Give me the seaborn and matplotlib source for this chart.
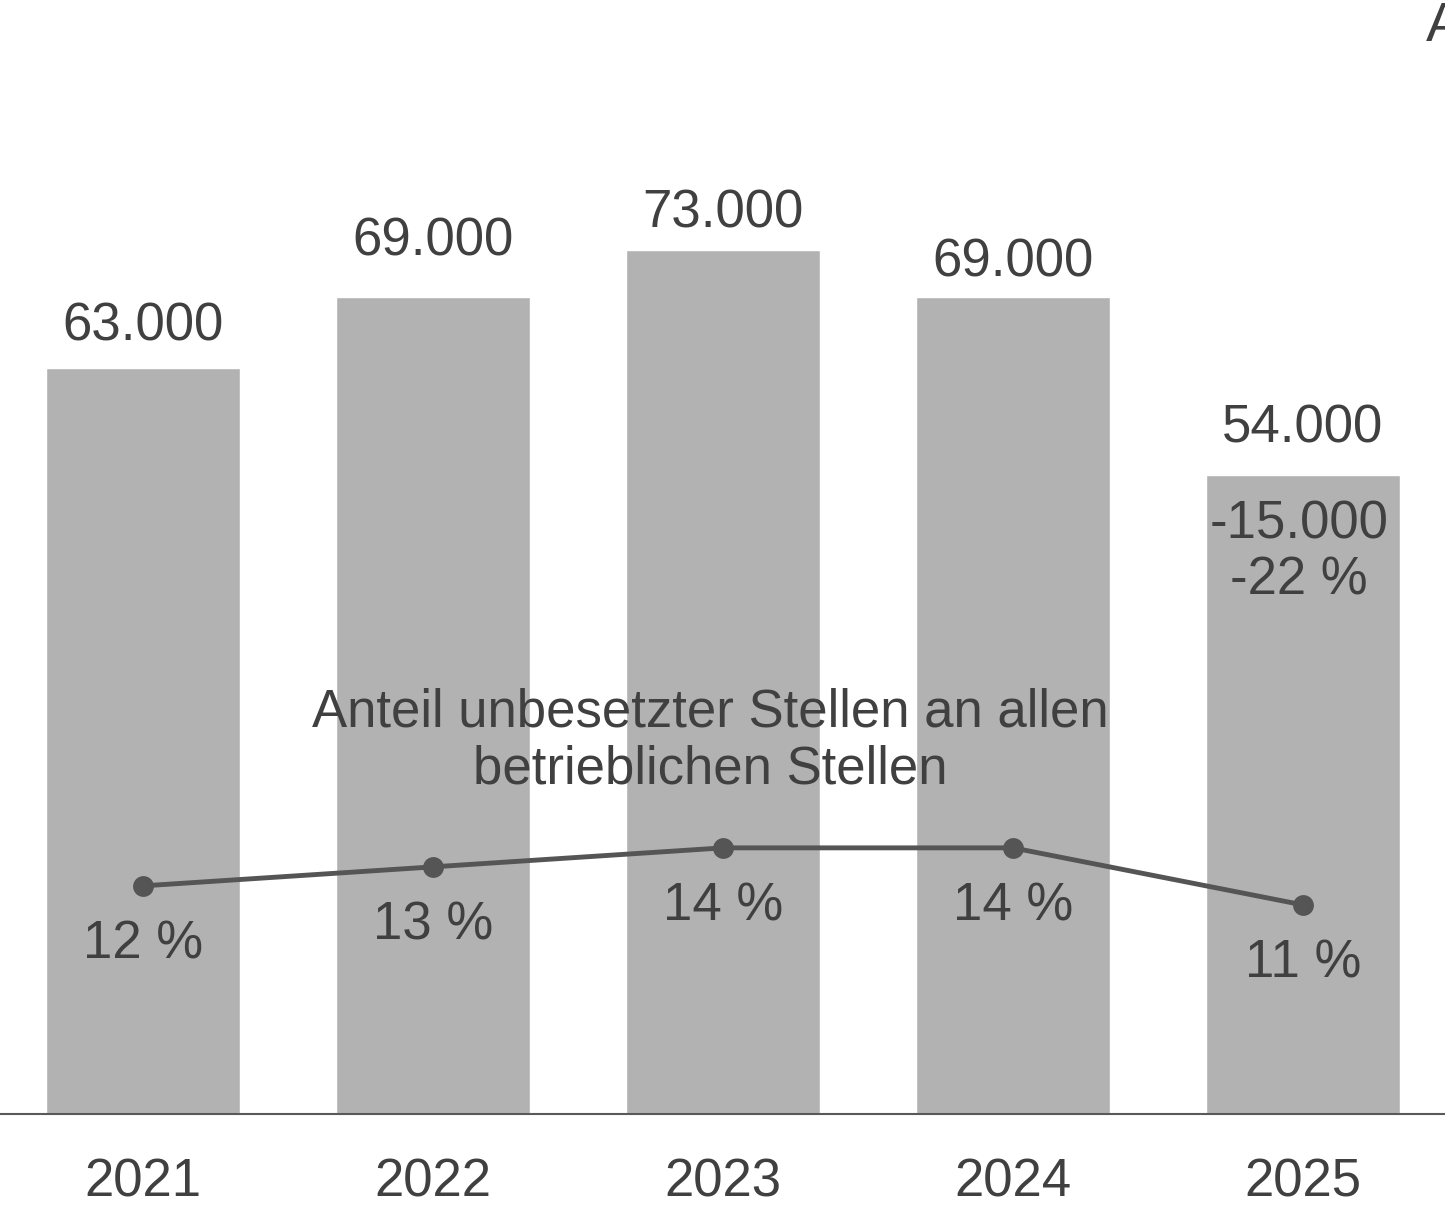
import numpy as np
import pandas as pd
import matplotlib
matplotlib.use("Agg")
import matplotlib.pyplot as plt
import seaborn as sns

# data
years = ["2021", "2022", "2023", "2024", "2025"]
vacancies = [63000, 69000, 73000, 69000, 54000]
share_pct = [12, 13, 14, 14, 11]
value_labels = ["63.000", "69.000", "73.000", "69.000", "54.000"]
share_labels = ["12 %", "13 %", "14 %", "14 %", "11 %"]
label_offsets = [30, 40, 26, 25, 33]   # points above bar top
change_abs = "-15.000"
change_pct = "-22 %"
line_note = "Anteil unbesetzter Stellen an allen\nbetrieblichen Stellen"

df = pd.DataFrame({"Jahr": years, "Stellen": vacancies, "Anteil": share_pct})

sns.set_style("white")
plt.rcParams["font.family"] = ["Liberation Sans", "DejaVu Sans"]
txt = "#404040"

fig = plt.figure(figsize=(14.45, 12.1), dpi=100)
ax = fig.add_axes([0, 96 / 1210, 1, 1114 / 1210])

sns.barplot(data=df, x="Jahr", y="Stellen", color="#b2b2b2", width=0.67,
            saturation=1, ax=ax)
ax.set_xlim(-0.493, 4.49)
ax.set_ylim(0, 94100)
ax.set_xlabel("")
ax.set_ylabel("")
ax.set_yticks([])
for s in ["top", "left", "right"]:
    ax.spines[s].set_visible(False)
ax.spines["bottom"].set_color("#595959")
ax.spines["bottom"].set_linewidth(1.5)
ax.tick_params(axis="x", length=0, pad=31, labelsize=38, labelcolor=txt)

for i, v in enumerate(vacancies):
    ax.annotate(value_labels[i], (i, v), xytext=(0, label_offsets[i]),
                textcoords="offset points", ha="center", va="center",
                fontsize=38, color=txt)

ax.annotate(change_abs + "\n" + change_pct, (4, vacancies[4]), xytext=(-3, -56),
            textcoords="offset points", ha="center", va="center",
            fontsize=38, color=txt, linespacing=1.17)

ax2 = ax.twinx()
sns.lineplot(x=np.arange(len(years)), y=share_pct, ax=ax2, color="#555555",
             linewidth=3.5, marker="o", markersize=15, markeredgewidth=0)
ax2.set_ylim(0, 58.6)
ax2.set_yticks([])
for s in ax2.spines.values():
    s.set_visible(False)

for i, p in enumerate(share_pct):
    ax2.annotate(share_labels[i], (i, p), xytext=(0, -42),
                 textcoords="offset points", ha="center", va="center",
                 fontsize=38, color=txt)

fig.text(710 / 1445, 1 - 741 / 1210, line_note, ha="center", va="center",
         fontsize=38, color=txt, linespacing=1.17)

fig.text(1426 / 1445, 1 - 27 / 1210, "A", ha="left", va="center",
         fontsize=40, color=txt)

fig.savefig("out.png", dpi=100)
